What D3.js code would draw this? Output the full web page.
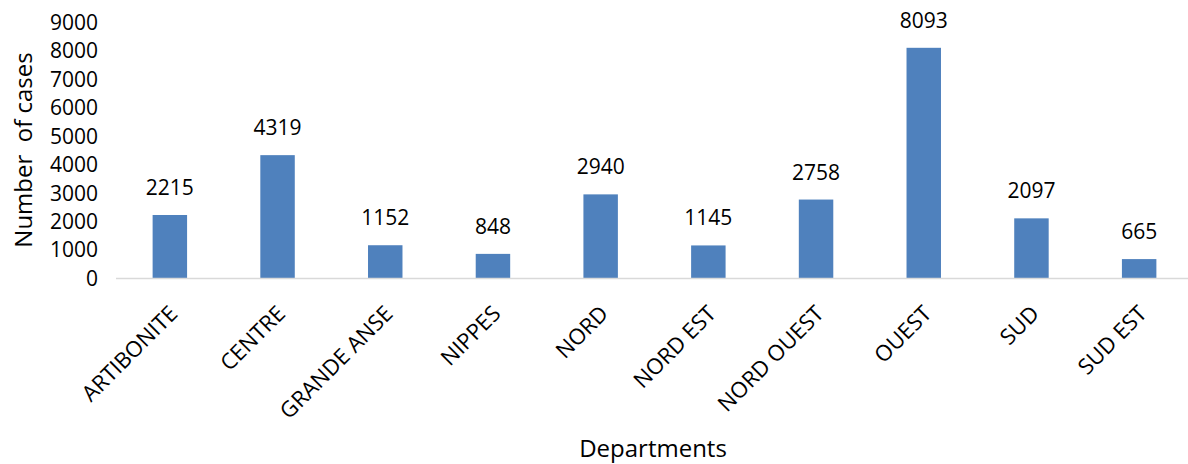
<!DOCTYPE html>
<html>
<head>
<meta charset="utf-8">
<script src="https://cdn.jsdelivr.net/npm/d3@7"></script>
<style>
  body { margin: 0; background: #fff; }
  text { font-family: "Open Sans", sans-serif; fill: #000; }
</style>
</head>
<body>
<script>
var width = 1188;
var height = 464;

var departments = ['ARTIBONITE', 'CENTRE', 'GRANDE ANSE', 'NIPPES', 'NORD', 'NORD EST', 'NORD OUEST', 'OUEST', 'SUD', 'SUD EST'];
var cases = [2215, 4319, 1152, 848, 2940, 1145, 2758, 8093, 2097, 665];
var yTicks = [0, 1000, 2000, 3000, 4000, 5000, 6000, 7000, 8000, 9000];

var svg = d3.select('body').append('svg')
  .attr('width', width)
  .attr('height', height);

var x = d3.scaleBand()
  .domain(departments)
  .range([116, 1193])
  .paddingInner(0.68)
  .paddingOuter(0.34);

var y = d3.scaleLinear()
  .domain([0, 9000])
  .range([278, 22]);

// y tick labels, no axis line
var yAxis = svg.append('g')
  .attr('transform', 'translate(104,0)')
  .call(d3.axisLeft(y).tickValues(yTicks).tickFormat(d3.format('d')).tickSize(0).tickPadding(6));
yAxis.select('.domain').remove();
yAxis.selectAll('text')
  .style('font-size', '21px')
  .attr('dy', '0.35em');

// bars
svg.selectAll('.bar')
  .data(departments)
  .enter().append('rect')
  .attr('class', 'bar')
  .attr('x', function (d) { return x(d); })
  .attr('width', x.bandwidth())
  .attr('y', function (d, i) { return y(cases[i]); })
  .attr('height', function (d, i) { return y(0) - y(cases[i]); })
  .attr('fill', '#4f81bd');

// baseline
svg.append('line')
  .attr('x1', 116)
  .attr('x2', 1193)
  .attr('y1', y(0) + 0.5)
  .attr('y2', y(0) + 0.5)
  .attr('stroke', '#d9d9d9')
  .attr('stroke-width', 1.5);

// value labels
svg.selectAll('.val')
  .data(departments)
  .enter().append('text')
  .attr('class', 'val')
  .attr('x', function (d) { return x(d) + x.bandwidth() / 2; })
  .attr('y', function (d, i) { return y(cases[i]) - 20; })
  .attr('text-anchor', 'middle')
  .style('font-size', '21px')
  .text(function (d, i) { return cases[i]; });

// x labels rotated
svg.selectAll('.xlab')
  .data(departments)
  .enter().append('text')
  .attr('class', 'xlab')
  .attr('text-anchor', 'end')
  .style('font-size', '22px')
  .attr('transform', function (d) {
    var cx = x(d) + x.bandwidth() / 2 + 9;
    return 'translate(' + cx + ',' + 315 + ') rotate(-45)';
  })
  .text(function (d) { return d; });

// axis titles
svg.append('text')
  .attr('transform', 'translate(32,150) rotate(-90)')
  .attr('text-anchor', 'middle')
  .style('font-size', '24px')
  .style('white-space', 'pre')
  .text('Number  of cases');

svg.append('text')
  .attr('x', 653)
  .attr('y', 457)
  .attr('text-anchor', 'middle')
  .style('font-size', '24px')
  .text('Departments');
</script>
</body>
</html>
